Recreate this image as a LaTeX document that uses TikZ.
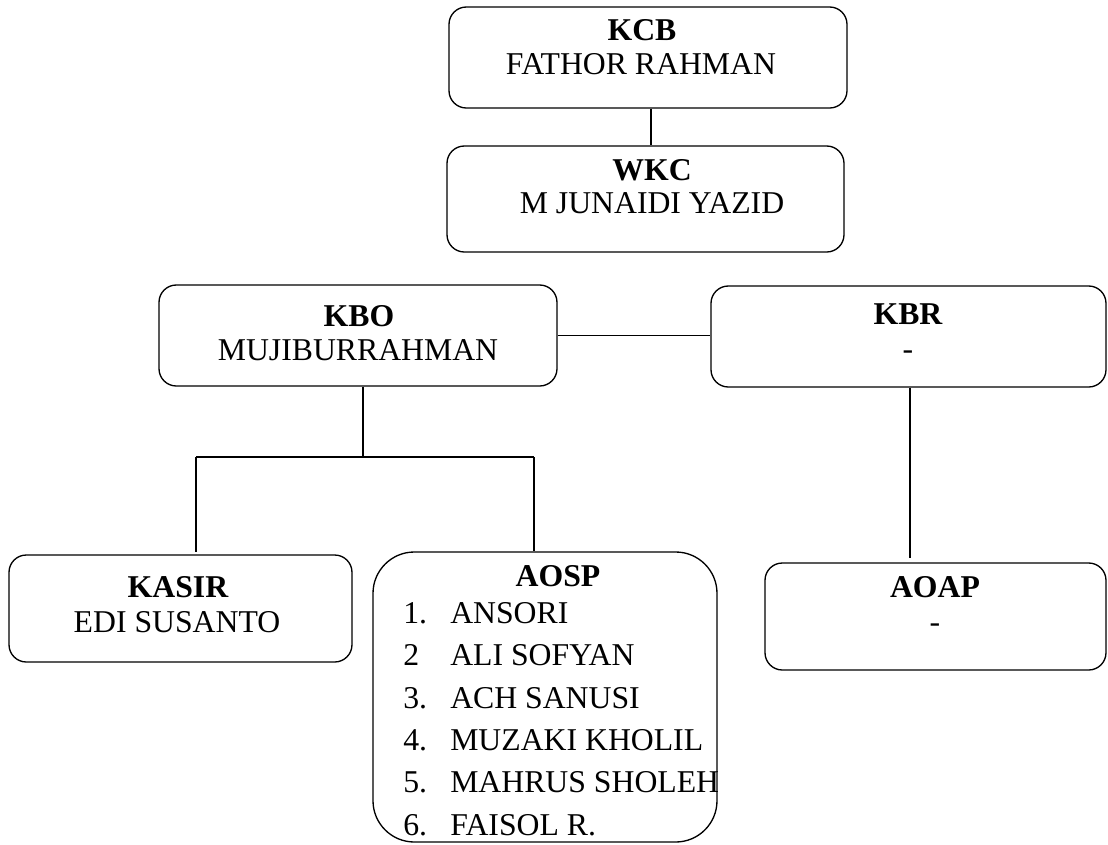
\documentclass[tikz,border=0pt]{standalone}
\usepackage{fontspec}
\setmainfont{Liberation Serif}
\begin{document}
\begin{tikzpicture}[x=0.75pt,y=-0.75pt,
  box/.style={draw, line width=1pt, rounded corners=13pt, inner sep=0pt},
  txt/.style={anchor=base, inner sep=0pt, font=\fontsize{23.8}{28}\selectfont},
  ttl/.style={anchor=base, inner sep=0pt, font=\fontsize{23.8}{28}\selectfont\bfseries},
  itm/.style={anchor=base west, inner sep=0pt, font=\fontsize{23.8}{28}\selectfont},
  conn/.style={line width=1pt},
  bar/.style={line width=1.5pt}]
\useasboundingbox (0,0) rectangle (1108,844);
% boxes
\node[box, minimum width=298.5pt, minimum height=75.75pt] (kcb) at (648,57.5) {};
\node[box, minimum width=297.75pt, minimum height=79.5pt] (wkc) at (645.5,199) {};
\node[box, minimum width=298.5pt, minimum height=75.75pt] (kbo) at (358,335.5) {};
\node[box, minimum width=296.25pt, minimum height=75.75pt] (kbr) at (908.5,336.5) {};
\node[box, minimum width=257.25pt, minimum height=80.25pt] (kasir) at (180.5,608.5) {};
\node[box, rounded corners=31pt, minimum width=258pt, minimum height=217.5pt] (aosp) at (545,697) {};
\node[box, minimum width=255.75pt, minimum height=80.25pt] (aoap) at (935.5,616.5) {};
% texts
\node[ttl] (kcbt) at (642,40.5) {KCB};
\node[txt] (kcbn) at (641,74) {FATHOR RAHMAN};
\node[ttl] (wkct) at (652,180) {WKC};
\node[txt] (wkcn) at (652,213) {M JUNAIDI YAZID};
\node[ttl] (kbot) at (359,326) {KBO};
\node[txt] (kbon) at (358,360) {MUJIBURRAHMAN};
\node[ttl] (kbrt) at (908,324) {KBR};
\node[txt] (kbrn) at (908,359) {-};
\node[ttl] (kasirt) at (178,597) {KASIR};
\node[txt] (kasirn) at (177,632) {EDI SUSANTO};
\node[ttl] (aoapt) at (935,597) {AOAP};
\node[txt] (aoapn) at (935,632) {-};
\node[ttl] (aospt) at (558,586) {AOSP};
\node[itm] (n1) at (403,623) {1.};
\node[itm] (n2) at (403,665.5) {2};
\node[itm] (n3) at (403,708) {3.};
\node[itm] (n4) at (403,750) {4.};
\node[itm] (n5) at (403,792.5) {5.};
\node[itm] (n6) at (403,835) {6.};
\node[itm] (m1) at (450,623) {ANSORI};
\node[itm] (m2) at (450,665.5) {ALI SOFYAN};
\node[itm] (m3) at (450,708) {ACH SANUSI};
\node[itm] (m4) at (450,750) {MUZAKI KHOLIL};
\node[itm] (m5) at (450,792.5) {MAHRUS SHOLEH};
\node[itm] (m6) at (450,835) {FAISOL R.};
% connector helpers
\coordinate (cx) at (651,0);
\coordinate (jm) at (363,457);
\coordinate (jl) at (196,457);
\coordinate (jr) at (534,457);
\coordinate (rx) at (910,0);
% connectors
\draw[conn] (kcb.south -| cx) -- (wkc.north -| cx);
\draw[conn] (kbo.east) -- (kbo.east -| kbr.west);
\draw[conn] (kbo.south -| jm) -- (jm);
\draw[bar] (jl) -- (jr);
\draw[conn, shorten >=2pt] (jl) -- (kasir.north -| jl);
\draw[conn] (jr) -- (aosp.north -| jr);
\draw[conn, shorten >=3pt] (kbr.south -| rx) -- (aoap.north -| rx);
\end{tikzpicture}
\end{document}
